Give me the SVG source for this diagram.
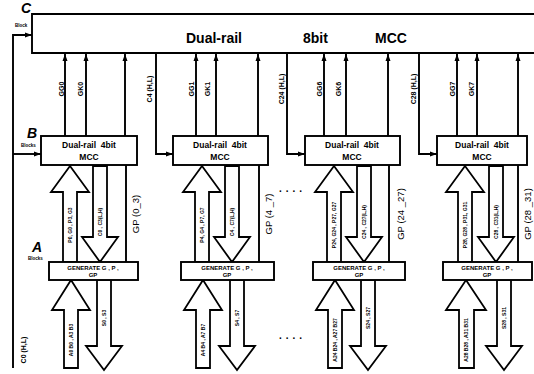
<svg xmlns="http://www.w3.org/2000/svg" width="534" height="374" viewBox="0 0 534 374">
<defs>
<style>
.ln{stroke:#000;stroke-width:1.9;fill:none}
.bx{stroke:#000;stroke-width:1.9;fill:#fff}
.ha{stroke:#000;stroke-width:1.8;fill:#fff;stroke-linejoin:miter}
text{font-family:"Liberation Sans",Arial,sans-serif;fill:#000}
.big{font-size:14px;font-weight:bold}
.bt{font-size:8.5px;font-weight:bold;text-anchor:middle}
.gt{font-size:6px;font-weight:bold;text-anchor:middle}
.lb{font-size:7px;font-weight:bold;text-anchor:middle}
.gp{font-size:9.5px;text-anchor:middle}
.sm{font-size:5px;font-weight:bold;text-anchor:middle}
.let{font-size:14px;font-weight:bold;font-style:italic}
.tiny{font-size:4.5px;font-weight:bold}
.dots{font-size:10px;font-weight:bold;letter-spacing:4px}
</style>
<marker id="ah" markerWidth="7" markerHeight="6" refX="7" refY="3" orient="auto" markerUnits="userSpaceOnUse"><path d="M0,0.5 L7,3 L0,5.5 z" fill="#000"/></marker>
</defs>

<g id="labels">
<text class="let" x="21" y="13">C</text>
<text class="tiny" x="15" y="27">Block</text>
<text class="let" x="27" y="138">B</text>
<text class="tiny" x="21" y="147">Blocks</text>
<text class="let" x="32" y="252">A</text>
<text class="tiny" x="28" y="260">Blocks</text>
<text class="lb" transform="translate(26,350) rotate(-90)">C0 (H,L)</text>
<text class="dots" x="279" y="192">....</text>
<text class="dots" x="279" y="339">....</text>
</g>

<g id="connectors">
<path class="ln" d="M13,368 V35 H32" marker-end="url(#ah)"/>
<path class="ln" d="M13,154 H41" marker-end="url(#ah)"/>
<line class="ln" x1="65" y1="136" x2="65" y2="54" marker-end="url(#ah)"/>
<line class="ln" x1="86" y1="136" x2="86" y2="54" marker-end="url(#ah)"/>
<line class="ln" x1="125" y1="136" x2="125" y2="54" marker-end="url(#ah)"/>
<path class="ln" d="M156,53 V154 H173" marker-end="url(#ah)"/>
<line class="ln" x1="196" y1="136" x2="196" y2="54" marker-end="url(#ah)"/>
<line class="ln" x1="216" y1="136" x2="216" y2="54" marker-end="url(#ah)"/>
<line class="ln" x1="258" y1="136" x2="258" y2="54" marker-end="url(#ah)"/>
<path class="ln" d="M287,53 V154 H305" marker-end="url(#ah)"/>
<line class="ln" x1="324" y1="136" x2="324" y2="54" marker-end="url(#ah)"/>
<line class="ln" x1="346" y1="136" x2="346" y2="54" marker-end="url(#ah)"/>
<line class="ln" x1="388" y1="136" x2="388" y2="54" marker-end="url(#ah)"/>
<path class="ln" d="M419,53 V154 H437" marker-end="url(#ah)"/>
<line class="ln" x1="457" y1="136" x2="457" y2="54" marker-end="url(#ah)"/>
<line class="ln" x1="477" y1="136" x2="477" y2="54" marker-end="url(#ah)"/>
<line class="ln" x1="518" y1="136" x2="518" y2="54" marker-end="url(#ah)"/>
<line class="ln" x1="126" y1="165" x2="126" y2="262"/>
<line class="ln" x1="259" y1="165" x2="259" y2="262"/>
<line class="ln" x1="389" y1="165" x2="389" y2="262"/>
<line class="ln" x1="518" y1="165" x2="518" y2="262"/>

<polygon class="ha" points="70,166 89,192 77,192 77,262 63,262 63,192 51,192"/>
<polygon class="ha" points="93,166 107,166 107,237 118,237 100,262 82,237 93,237"/>
<polygon class="ha" points="71,280 90,310 78,310 78,368 64,368 64,310 52,310"/>
<polygon class="ha" points="97,280 111,280 111,346 122,346 104,370 86,346 97,346"/>
<polygon class="ha" points="202,166 221,192 209,192 209,262 195,262 195,192 183,192"/>
<polygon class="ha" points="225,166 239,166 239,237 250,237 232,262 214,237 225,237"/>
<polygon class="ha" points="203,280 222,310 210,310 210,368 196,368 196,310 184,310"/>
<polygon class="ha" points="230,280 244,280 244,346 255,346 237,370 219,346 230,346"/>
<polygon class="ha" points="334,166 353,192 341,192 341,262 327,262 327,192 315,192"/>
<polygon class="ha" points="357,166 371,166 371,237 382,237 364,262 346,237 357,237"/>
<polygon class="ha" points="335,280 354,310 342,310 342,368 328,368 328,310 316,310"/>
<polygon class="ha" points="361,280 375,280 375,346 386,346 368,370 350,346 361,346"/>
<polygon class="ha" points="465,166 484,192 472,192 472,262 458,262 458,192 446,192"/>
<polygon class="ha" points="489,166 503,166 503,237 514,237 496,262 478,237 489,237"/>
<polygon class="ha" points="466,280 486,310 474,310 474,368 459,368 459,310 446,310"/>
<polygon class="ha" points="497,280 511,280 511,346 522,346 504,370 486,346 497,346"/>
</g>

<g id="C">
<path class="bx" d="M536,14 H32 V53 H536"/>
<text class="big" x="186" y="43">Dual-rail</text>
<text class="big" x="303" y="43">8bit</text>
<text class="big" x="375" y="43">MCC</text>
</g>

<g id="B1">
<rect class="bx" x="41" y="136" width="96" height="29"/>
<text class="bt" x="89" y="148" xml:space="preserve">Dual-rail  4bit</text>
<text class="bt" x="89" y="160">MCC</text>
<text class="lb" transform="translate(64,89) rotate(-90)">GG0</text>
<text class="lb" transform="translate(83,89) rotate(-90)">GK0</text>
<text class="lb" transform="translate(152,89) rotate(-90)">C4 (H,L)</text>
<text class="sm" transform="translate(72,225) rotate(-90)">P0, G0 , P3, G3</text>
<text class="sm" transform="translate(102,222) rotate(-90)">C0 , C3(L,H)</text>
<text class="gp" transform="translate(139,214) rotate(-90)">GP (0_3)</text>
</g>

<g id="A1">
<rect class="bx" x="49" y="262" width="89" height="18"/>
<text class="gt" x="93" y="270">GENERATE G , P ,</text>
<text class="gt" x="93" y="277">GP</text>
<text class="sm" transform="translate(73,340) rotate(-90)">A0 B0 , A3 B3</text>
<text class="sm" transform="translate(106,318) rotate(-90)">S0 , S3</text>
</g>

<g id="B2">
<rect class="bx" x="173" y="136" width="95" height="29"/>
<text class="bt" x="220" y="148" xml:space="preserve">Dual-rail  4bit</text>
<text class="bt" x="220" y="160">MCC</text>
<text class="lb" transform="translate(194,89) rotate(-90)">GG1</text>
<text class="lb" transform="translate(210,89) rotate(-90)">GK1</text>
<text class="lb" transform="translate(284,89) rotate(-90)">C24 (H,L)</text>
<text class="sm" transform="translate(204,225) rotate(-90)">P4, G4 , P7, G7</text>
<text class="sm" transform="translate(234,222) rotate(-90)">C4 , C7(L,H)</text>
<text class="gp" transform="translate(272,214) rotate(-90)">GP (4 _7)</text>
</g>

<g id="A2">
<rect class="bx" x="181" y="262" width="93" height="18"/>
<text class="gt" x="227" y="270">GENERATE G , P ,</text>
<text class="gt" x="227" y="277">GP</text>
<text class="sm" transform="translate(205,340) rotate(-90)">A4 B4 , A7 B7</text>
<text class="sm" transform="translate(239,318) rotate(-90)">S4 , S7</text>
</g>

<g id="B3">
<rect class="bx" x="305" y="136" width="95" height="29"/>
<text class="bt" x="352" y="148" xml:space="preserve">Dual-rail  4bit</text>
<text class="bt" x="352" y="160">MCC</text>
<text class="lb" transform="translate(322,89) rotate(-90)">GG6</text>
<text class="lb" transform="translate(341,89) rotate(-90)">GK6</text>
<text class="lb" transform="translate(416,89) rotate(-90)">C28 (H,L)</text>
<text class="sm" transform="translate(336,225) rotate(-90)">P24, G24 , P27, G27</text>
<text class="sm" transform="translate(366,222) rotate(-90)">C24 , C27(L,H)</text>
<text class="gp" transform="translate(404,214) rotate(-90)">GP (24 _27)</text>
</g>

<g id="A3">
<rect class="bx" x="313" y="262" width="92" height="18"/>
<text class="gt" x="359" y="270">GENERATE G , P ,</text>
<text class="gt" x="359" y="277">GP</text>
<text class="sm" transform="translate(337,340) rotate(-90)">A24 B24 , A27 B27</text>
<text class="sm" transform="translate(370,318) rotate(-90)">S24 , S27</text>
</g>

<g id="B4">
<rect class="bx" x="437" y="136" width="90" height="29"/>
<text class="bt" x="482" y="148" xml:space="preserve">Dual-rail  4bit</text>
<text class="bt" x="482" y="160">MCC</text>
<text class="lb" transform="translate(455,89) rotate(-90)">GG7</text>
<text class="lb" transform="translate(474,89) rotate(-90)">GK7</text>
<text class="sm" transform="translate(467,225) rotate(-90)">P28, G28 , P31, G31</text>
<text class="sm" transform="translate(498,222) rotate(-90)">C28 , C31(L,H)</text>
<text class="gp" transform="translate(531,214) rotate(-90)">GP (28 _31)</text>
</g>

<g id="A4">
<rect class="bx" x="443" y="262" width="89" height="18"/>
<text class="gt" x="487" y="270">GENERATE G , P ,</text>
<text class="gt" x="487" y="277">GP</text>
<text class="sm" transform="translate(468,340) rotate(-90)">A28 B28 , A31 B31</text>
<text class="sm" transform="translate(506,318) rotate(-90)">S28 , S31</text>
</g>
</svg>
